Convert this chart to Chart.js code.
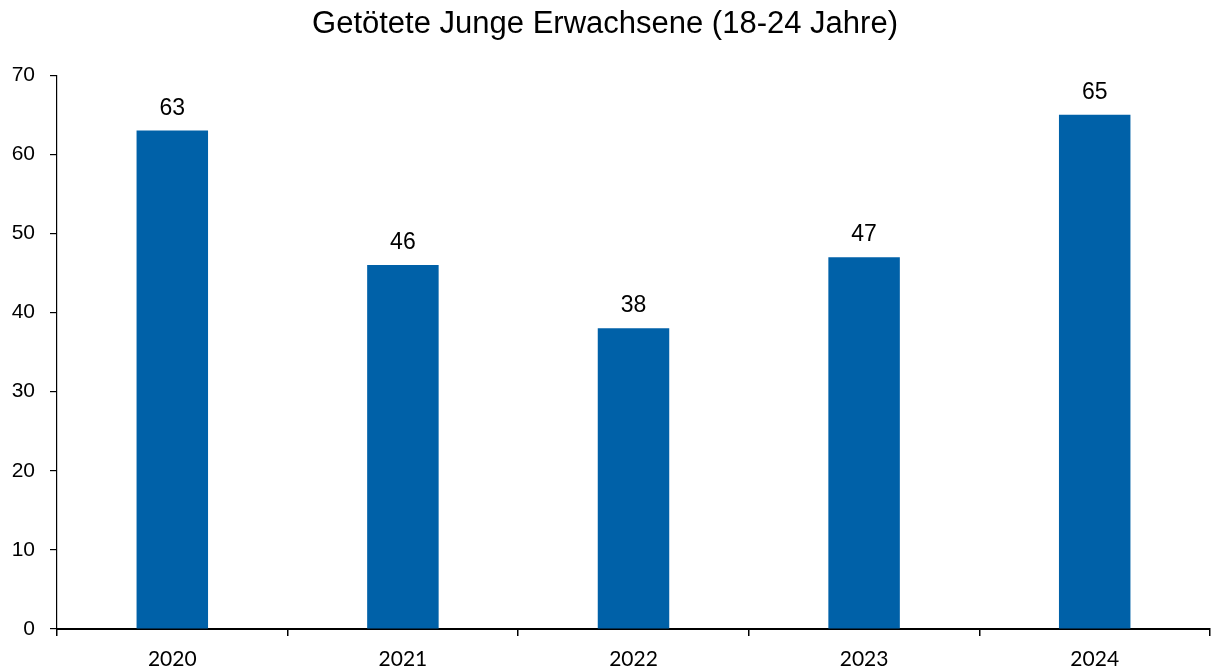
<!DOCTYPE html>
<html lang="de">
<head>
  <meta charset="utf-8">
  <title>Getötete Junge Erwachsene (18-24 Jahre)</title>
  <script src="https://cdn.jsdelivr.net/npm/chart.js"></script>
  <style>
    * { box-sizing:border-box; margin:0; padding:0 }
    html, body { background:#fff; width:1214px; height:672px; overflow:hidden }
    #wrap { position:relative; width:1214px; height:672px }
  </style>
</head>
<body>
  <div id="wrap"><canvas id="chart"></canvas></div>

  <script>
  // ===== DATA =====
  const years   = ['2020', '2021', '2022', '2023', '2024'];
  const killed  = [63, 46, 38, 47, 65];
  const yTicks  = [0, 10, 20, 30, 40, 50, 60, 70];
  const title   = 'Getötete Junge Erwachsene (18-24 Jahre)';

  const barBlue = '#0061A8';

  // value above every bar
  const valueLabels = {
    id: 'valueLabels',
    afterDatasetsDraw(chart) {
      const ctx = chart.ctx;
      const meta = chart.getDatasetMeta(0);
      ctx.save();
      ctx.font = '23px "Liberation Sans", Arial, sans-serif';
      ctx.fillStyle = '#000';
      ctx.textAlign = 'center';
      ctx.textBaseline = 'alphabetic';
      meta.data.forEach((bar, i) => {
        ctx.fillText(String(killed[i]), bar.x, bar.y - 16);
      });
      ctx.restore();
    }
  };

  const ctx = document.getElementById('chart').getContext('2d');
  new Chart(ctx, {
    type: 'bar',
    data: {
      labels: years,
      datasets: [{
        data: killed,
        backgroundColor: barBlue,
        borderWidth: 0,
        categoryPercentage: 1,
        barPercentage: 0.31
      }]
    },
    options: {
      responsive: true,
      maintainAspectRatio: false,
      animation: false,
      layout: { padding: { left: 0, right: 4, top: 0, bottom: 0 } },
      plugins: {
        legend: { display: false },
        tooltip: { enabled: false },
        title: {
          display: true,
          text: title,
          color: '#000',
          font: { family: '"Liberation Sans", Arial, sans-serif', size: 31, weight: 'normal', lineHeight: 1.2 },
          padding: { top: 6, bottom: 32 }
        }
      },
      scales: {
        x: {
          offset: true,
          border: { display: true, color: '#000', width: 2 },
          grid: { display: true, offset: true, drawOnChartArea: false, drawTicks: true, tickLength: 7, color: '#000', lineWidth: 1.5 },
          ticks: {
            color: '#000',
            padding: 11,
            font: { family: 'Lato, "Open Sans", sans-serif', size: 21 }
          },
          afterFit(scale) { scale.height = 43; }
        },
        y: {
          min: 0,
          max: 70,
          afterBuildTicks(scale) { scale.ticks = yTicks.map(v => ({ value: v })); },
          border: { display: true, color: '#000', width: 1.2 },
          grid: { display: true, drawOnChartArea: false, drawTicks: true, tickLength: 7, color: '#000', lineWidth: 1.2 },
          ticks: {
            color: '#000',
            padding: 15,
            font: { family: '"Liberation Sans", Arial, sans-serif', size: 21 }
          },
          afterFit(scale) { scale.width = 57; }
        }
      }
    },
    plugins: [valueLabels]
  });
  </script>
</body>
</html>
